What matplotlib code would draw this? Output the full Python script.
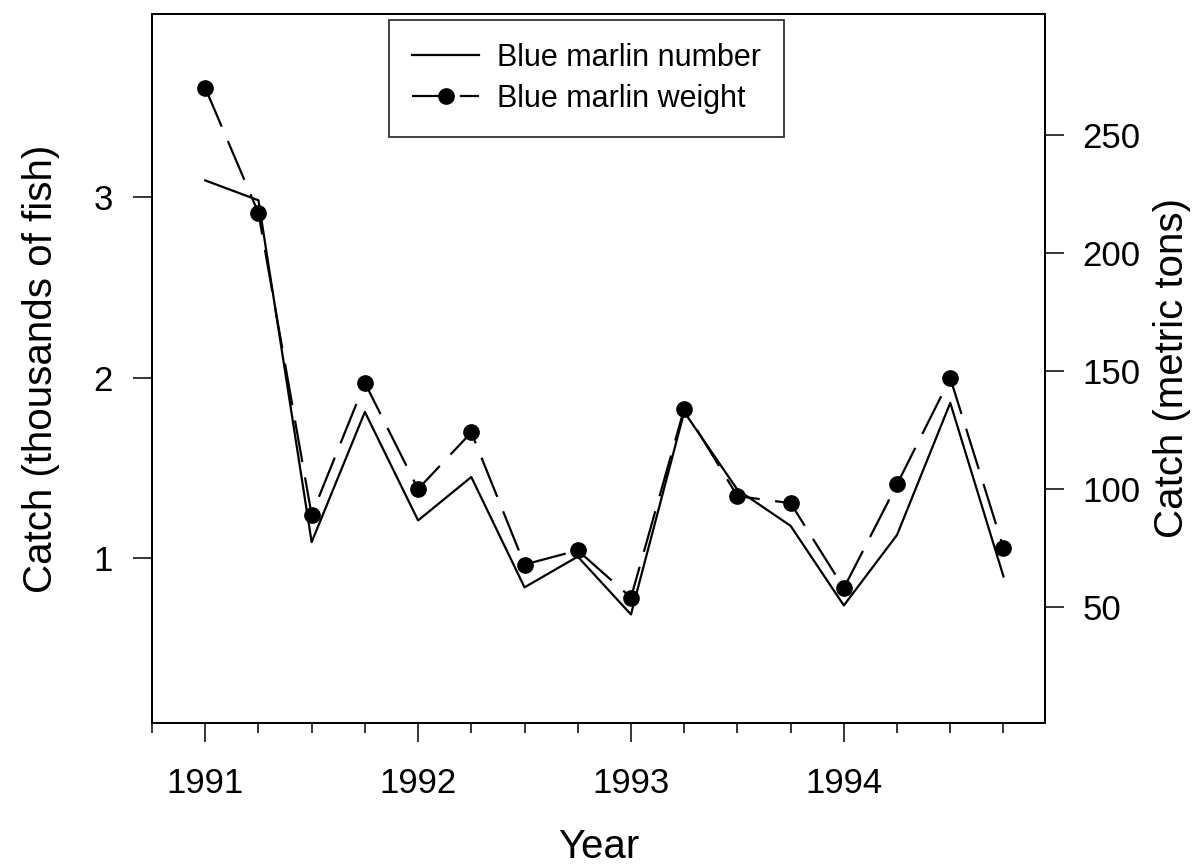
import matplotlib
matplotlib.use("Agg")
import matplotlib.pyplot as plt
from matplotlib.lines import Line2D
from matplotlib.ticker import MultipleLocator, FixedLocator

plt.rcParams["font.family"] = ["Liberation Sans", "DejaVu Sans"]

# quarterly catch, 1991-1994
anos = [1991.00, 1991.25, 1991.50, 1991.75,
        1992.00, 1992.25, 1992.50, 1992.75,
        1993.00, 1993.25, 1993.50, 1993.75,
        1994.00, 1994.25, 1994.50, 1994.75]
numero = [3.09, 2.98, 1.09, 1.81, 1.21, 1.45, 0.84, 1.01,
          0.69, 1.81, 1.38, 1.18, 0.74, 1.13, 1.86, 0.90]   # thousands of fish
peso = [270, 217, 89, 145, 100, 124, 68, 74,
        54, 134, 97, 94, 58, 102, 147, 75]                   # metric tons

W, H = 1197, 865
fig = plt.figure(figsize=(W / 100, H / 100), dpi=100, facecolor="white")
ax = fig.add_axes([152 / W, 1 - 723 / H, (1045 - 152) / W, (723 - 14) / H])
ax2 = ax.twinx()

ax.plot(anos, numero, "-", color="black", lw=1.6)
ax2.plot(anos, peso, color="black", lw=1.6, marker="o", ms=11, dashes=(19, 7))

ax.set_xlim(1990.75, 1994.945)
ax.set_ylim(0.09, 4.01)
ax2.set_ylim(0.85, 301.3)

ax.xaxis.set_major_locator(MultipleLocator(1))
ax.xaxis.set_minor_locator(MultipleLocator(0.25))
ax.xaxis.set_major_formatter(lambda v, p: f"{v:.0f}")
ax.yaxis.set_major_locator(FixedLocator([1, 2, 3]))
ax2.yaxis.set_major_locator(FixedLocator([50, 100, 150, 200, 250]))

ax.tick_params(axis="x", which="major", length=14, width=1.1, pad=18, labelsize=25)
ax.tick_params(axis="x", which="minor", length=7, width=1.1)
ax.tick_params(axis="y", which="major", length=14, width=1.1, pad=14, labelsize=25)
ax2.tick_params(axis="y", which="major", length=14, width=1.1, pad=13, labelsize=25)
for a in (ax, ax2):
    for s in a.spines.values():
        s.set_linewidth(1.4)

ax.set_xlabel("Year", fontsize=29)
ax.xaxis.set_label_coords(0.5, -0.148)
ax.set_ylabel("Catch (thousands of fish)", fontsize=29)
ax.yaxis.set_label_coords(-0.103, 0.5)
ax2.set_ylabel("Catch (metric tons)", fontsize=29)
ax2.yaxis.set_label_coords(1.121, 0.5)

# legend handles: dash pattern tuned so the weight handle reads "—●  –"
h_num = Line2D([], [], color="black", lw=1.6)
h_peso = Line2D([], [], color="black", lw=1.6, marker="o", ms=11, dashes=(16, 5.5))
leg = ax2.legend([h_num, h_peso], ["Blue marlin number", "Blue marlin weight"],
                 loc="upper left", bbox_to_anchor=(0.2654, 0.9915), borderaxespad=0,
                 fontsize=22, frameon=True, fancybox=False, handlelength=2.2,
                 handletextpad=0.6, borderpad=0.75, labelspacing=0.35, numpoints=1)
leg.get_frame().set_edgecolor("black")
leg.get_frame().set_linewidth(1.3)

fig.savefig("out.png", dpi=100, facecolor="white")
